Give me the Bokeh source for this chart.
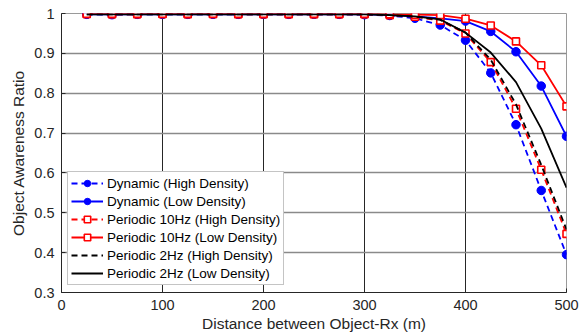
from bokeh.plotting import figure
from bokeh.models import Range1d, FixedTicker, Legend
from bokeh.embed import file_html
from bokeh.resources import INLINE

distance = [25, 50, 75, 100, 125, 150, 175, 200, 225, 250, 275, 300, 325, 350, 375, 400, 425, 450, 475, 500]

dyn_high = [0.998, 0.997, 0.998, 0.998, 0.998, 0.998, 0.998, 0.998, 0.998, 0.998, 0.998, 0.997, 0.995, 0.988, 0.971, 0.933, 0.851, 0.721, 0.556, 0.395]
dyn_low = [0.998, 0.998, 0.998, 0.998, 0.998, 0.998, 0.998, 0.998, 0.998, 0.998, 0.998, 0.998, 0.996, 0.993, 0.988, 0.981, 0.955, 0.904, 0.818, 0.692]
p10_high = [0.999, 0.998, 0.998, 0.999, 0.998, 0.999, 0.998, 0.998, 0.998, 0.998, 0.998, 0.998, 0.996, 0.992, 0.982, 0.950, 0.878, 0.761, 0.608, 0.447]
p10_low = [0.999, 0.999, 0.999, 0.999, 0.999, 0.999, 0.999, 0.999, 0.999, 0.999, 0.999, 0.999, 0.998, 0.997, 0.996, 0.987, 0.970, 0.930, 0.870, 0.767]
p2_high = [0.998, 0.998, 0.998, 0.998, 0.998, 0.998, 0.998, 0.998, 0.998, 0.998, 0.998, 0.998, 0.996, 0.992, 0.984, 0.952, 0.884, 0.772, 0.620, 0.458]
p2_low = [0.998, 0.998, 0.998, 0.998, 0.998, 0.998, 0.998, 0.998, 0.998, 0.998, 0.998, 0.998, 0.996, 0.993, 0.985, 0.952, 0.902, 0.828, 0.711, 0.563]

x_ticks = [0, 100, 200, 300, 400, 500]
y_ticks = [0.3, 0.4, 0.5, 0.6, 0.7, 0.8, 0.9, 1.0]
y_tick_labels = {0.3: "0.3", 0.4: "0.4", 0.5: "0.5", 0.6: "0.6", 0.7: "0.7", 0.8: "0.8", 0.9: "0.9", 1.0: "1"}

FONT = "Liberation Sans"

p = figure(width=580, height=335, output_backend="svg", toolbar_location=None,
           x_range=Range1d(0, 500), y_range=Range1d(0.3, 1.0),
           min_border_left=61, min_border_right=14, min_border_top=13, min_border_bottom=43)
p.background_fill_color = "white"
p.border_fill_color = "white"
p.outline_line_color = "#9a9a9a"
p.outline_line_width = 1

for ax in (p.xaxis[0], p.yaxis[0]):
    ax.major_tick_in = 4
    ax.major_tick_out = 0
    ax.minor_tick_in = 0
    ax.minor_tick_out = 0
    ax.axis_line_color = "#262626"
    ax.major_tick_line_color = "#262626"
    ax.major_label_text_font = FONT
    ax.major_label_text_font_size = "14.5px"
    ax.major_label_text_color = "#262626"
    ax.axis_label_text_font = FONT
    ax.axis_label_text_font_size = "15.5px"
    ax.axis_label_text_font_style = "normal"
    ax.axis_label_text_color = "#262626"

p.xaxis.ticker = FixedTicker(ticks=x_ticks)
p.yaxis.ticker = FixedTicker(ticks=y_ticks)
p.yaxis.major_label_overrides = y_tick_labels
p.xaxis.axis_label = "Distance between Object-Rx (m)"
p.yaxis.axis_label = "Object Awareness Ratio"
p.xaxis.major_label_standoff = 7
p.yaxis.major_label_standoff = 7
p.xaxis.axis_label_standoff = 2
p.yaxis.axis_label_standoff = 4

p.xgrid.grid_line_color = "#262626"
p.xgrid.grid_line_width = 1
p.ygrid.grid_line_color = "#8a8a8a"
p.ygrid.grid_line_width = 1.5

BLUE = "#0000ff"
RED = "#ff0000"
DASH = "6 4"
LW = 1.8

r1 = p.line(distance, dyn_high, line_color=BLUE, line_width=LW, line_dash=DASH)
m1 = p.scatter(distance, dyn_high, marker="circle", size=8.5, fill_color=BLUE, line_color=BLUE)
r2 = p.line(distance, dyn_low, line_color=BLUE, line_width=LW)
m2 = p.scatter(distance, dyn_low, marker="circle", size=8.5, fill_color=BLUE, line_color=BLUE)
r3 = p.line(distance, p10_high, line_color=RED, line_width=LW, line_dash=DASH)
m3 = p.scatter(distance, p10_high, marker="square", size=7, fill_color="white", line_color=RED, line_width=1.6)
r4 = p.line(distance, p10_low, line_color=RED, line_width=LW)
m4 = p.scatter(distance, p10_low, marker="square", size=7, fill_color="white", line_color=RED, line_width=1.6)
r5 = p.line(distance, p2_high, line_color="black", line_width=LW, line_dash=DASH)
r6 = p.line(distance, p2_low, line_color="black", line_width=LW)

legend = Legend(items=[
    ("Dynamic (High Density)", [r1, m1]),
    ("Dynamic (Low Density)", [r2, m2]),
    ("Periodic 10Hz (High Density)", [r3, m3]),
    ("Periodic 10Hz (Low Density)", [r4, m4]),
    ("Periodic 2Hz (High Density)", [r5]),
    ("Periodic 2Hz (Low Density)", [r6]),
], location=(6, 7))
legend.label_text_font = FONT
legend.label_text_font_size = "13.5px"
legend.label_text_color = "black"
legend.glyph_width = 32
legend.glyph_height = 16
legend.label_height = 16
legend.label_standoff = 4
legend.spacing = 2
legend.padding = 3
legend.margin = 0
legend.border_line_color = "#8a8a8a"
legend.border_line_width = 1.5
legend.background_fill_color = "white"
legend.background_fill_alpha = 1
p.add_layout(legend, "center")

open("out.html", "w").write(file_html(p, INLINE))
